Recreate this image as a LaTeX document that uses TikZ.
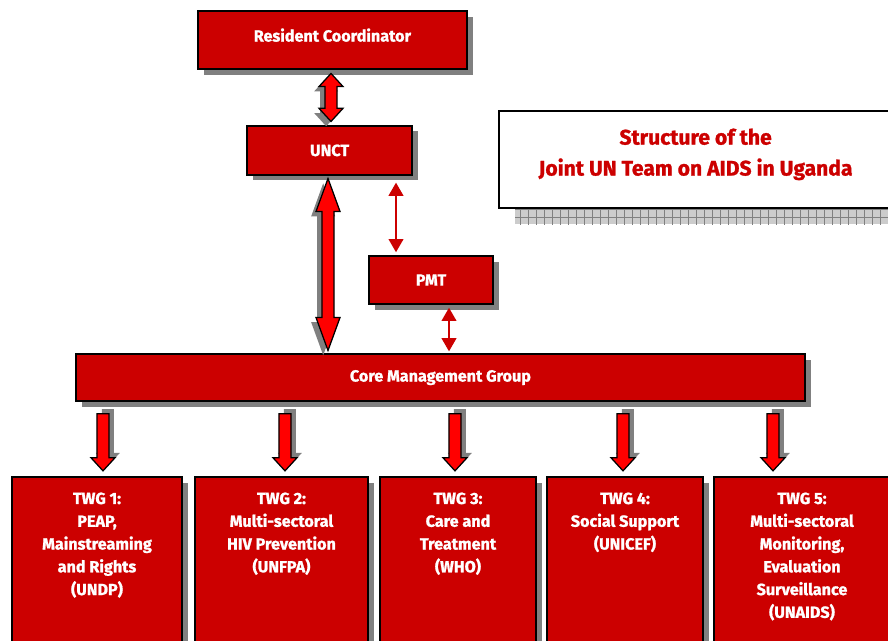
\documentclass[tikz,border=0pt]{standalone}
\usepackage{fontspec}
\setmainfont{Fira Sans}[BoldFeatures={FakeBold=1.2}]
\usetikzlibrary{shapes.arrows,shadows,arrows.meta,patterns.meta}
\definecolor{boxred}{HTML}{CC0000}
\definecolor{arrowred}{HTML}{FF0000}
\tikzset{
  unitbox/.style={draw=black, line width=1.1pt, fill=boxred, text=white,
    font=\bfseries\fontsize{11.5}{14}\selectfont,
    drop shadow={shadow xshift=0.14cm, shadow yshift=-0.14cm, fill=gray, opacity=1}},
  twgtext/.style={text=white, font=\bfseries\fontsize{11.5}{16.2}\selectfont,
    align=center, inner sep=0pt, anchor=north},
  bigdbl/.style={double arrow, draw=black, line width=0.9pt, fill=arrowred,
    inner sep=0pt, text height=0.27cm, text depth=0pt, rotate=90,
    double arrow head extend=0.15cm,
    drop shadow={shadow xshift=-0.12cm, shadow yshift=-0.12cm, fill=gray, opacity=1}},
  downarrow/.style={single arrow, draw=black, line width=0.9pt, fill=arrowred,
    inner sep=0pt, text height=0.27cm, text depth=0pt, rotate=-90,
    single arrow head extend=0.15cm, single arrow tip angle=85, minimum height=1.425cm,
    drop shadow={shadow xshift=0.12cm, shadow yshift=0.12cm, fill=gray, opacity=1}},
  thindbl/.style={draw=boxred, line width=1.1pt,
    {Triangle[length=0.33cm,width=0.37cm]}-{Triangle[length=0.33cm,width=0.37cm]}}
}
\begin{document}
\begin{tikzpicture}
    \useasboundingbox (0,0) rectangle (22.2,-16.025);
    % title with its chequered shadow
    \fill [gray!40, postaction={pattern={Hatch[angle=0,distance=0.2cm,line width=0.3pt]}, pattern color=gray}] (12.875,-5.2) rectangle (22.3,-5.6);
    \node [draw=black, line width=1.1pt, fill=white, minimum width=9.825cm, minimum height=2.425cm] (title) at (17.39,-3.99) {};
    \node [text=boxred, font=\bfseries\fontsize{15}{22}\selectfont, align=center] (titletext) at ([yshift=0.13cm]title.center) {Structure of the\\Joint UN Team on AIDS in Uganda};
    % units
    \node [unitbox, minimum width=6.725cm, minimum height=1.45cm, text depth=0.25cm] (rc) at (8.31,-1.0) {Resident Coordinator};
    \node [unitbox, minimum width=4.125cm, minimum height=1.225cm] (unct) at (8.24,-3.76) {UNCT};
    \node [unitbox, minimum width=3.1cm, minimum height=1.2cm] (pmt) at (10.775,-7.0) {PMT};
    \node [unitbox, minimum width=18.225cm, minimum height=1.175cm] (cmg) at (11.01,-9.44) {Core Management Group};
    % working groups
    \node [unitbox, minimum width=4.25cm, minimum height=4.2cm] (twg1) at (2.425,-14.025) {};
    \node [unitbox, minimum width=4.325cm, minimum height=4.2cm] (twg2) at (7.0375,-14.025) {};
    \node [unitbox, minimum width=3.9cm, minimum height=4.2cm] (twg3) at (11.45,-14.025) {};
    \node [unitbox, minimum width=3.9cm, minimum height=4.2cm] (twg4) at (15.625,-14.025) {};
    \node [unitbox, minimum width=4.4cm, minimum height=4.2cm] (twg5) at (20.05,-14.025) {};
    \node [twgtext] (twg1text) at ([yshift=-0.4cm]twg1.north) {TWG 1:\\PEAP,\\Mainstreaming\\and Rights\\(UNDP)};
    \node [twgtext] (twg2text) at ([yshift=-0.4cm]twg2.north) {TWG 2:\\Multi-sectoral\\HIV Prevention\\(UNFPA)};
    \node [twgtext] (twg3text) at ([yshift=-0.4cm]twg3.north) {TWG 3:\\Care and\\Treatment\\(WHO)};
    \node [twgtext] (twg4text) at ([yshift=-0.4cm]twg4.north) {TWG 4:\\Social Support\\(UNICEF)};
    \node [twgtext] (twg5text) at ([yshift=-0.4cm]twg5.north) {TWG 5:\\Multi-sectoral\\Monitoring,\\Evaluation\\Surveillance\\(UNAIDS)};
    % arrows
    \path (rc.south) -- node [bigdbl, minimum height=1.2cm, double arrow tip angle=85] {} (unct.north);
    \path ([xshift=-0.04cm]unct.south) -- node [bigdbl, minimum height=4.3cm, double arrow tip angle=40] {} ([xshift=-0.04cm]unct.south |- cmg.north);
    \draw [thindbl, shorten <=0.175cm, shorten >=0.075cm] ([xshift=1.66cm]unct.south) -- ([xshift=1.66cm]unct.south |- pmt.north);
    \draw [thindbl, shorten <=0.075cm, shorten >=0.05cm] ([xshift=0.45cm]pmt.south) -- ([xshift=0.45cm]pmt.south |- cmg.north);
    \path ([xshift=0.15cm]twg1.north |- cmg.south) -- node [downarrow] {} ([xshift=0.15cm]twg1.north);
    \path ([xshift=0.0875cm]twg2.north |- cmg.south) -- node [downarrow] {} ([xshift=0.0875cm]twg2.north);
    \path ([xshift=-0.075cm]twg3.north |- cmg.south) -- node [downarrow] {} ([xshift=-0.075cm]twg3.north);
    \path ([xshift=-0.05cm]twg4.north |- cmg.south) -- node [downarrow] {} ([xshift=-0.05cm]twg4.north);
    \path ([xshift=-0.725cm]twg5.north |- cmg.south) -- node [downarrow] {} ([xshift=-0.725cm]twg5.north);
\end{tikzpicture}
\end{document}
